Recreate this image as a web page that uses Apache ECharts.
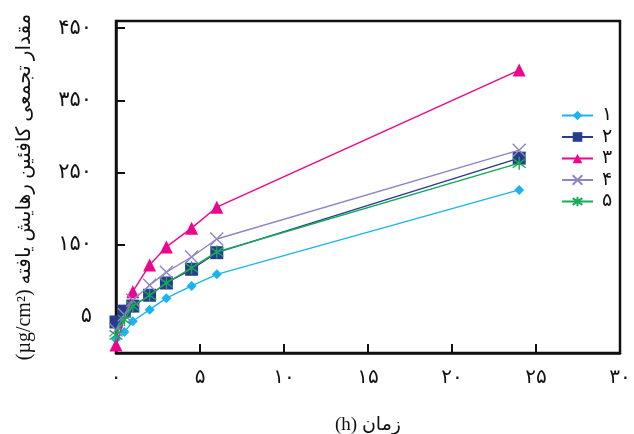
<!DOCTYPE html>
<html>
<head>
<meta charset="utf-8">
<script src="https://cdn.jsdelivr.net/npm/echarts@6.0.0/dist/echarts.min.js"></script>
<style>
  html, body { margin: 0; padding: 0; background: #fff; }
  #chart { width: 634px; height: 434px; }
</style>
</head>
<body>
<div id="chart"></div>
<script>
// Sampling times (hours)
const times = [0, 0.5, 1, 2, 3, 4.5, 6, 24];

// Cumulative caffeine released (µg/cm²) for each formulation
const seriesNames = ['۱', '۲', '۳', '۴', '۵'];
const s1 = [19, 29, 44, 60, 76, 93, 109, 226];
const s2 = [43, 58, 65, 80, 97, 116, 139, 270];
const s3 = [11, null, 85, 122, 147, 173, 202, 392];
const s4 = [32, 53, 73, 94, 112, 133, 158, 281];
const s5 = [25, 46, 65, 80, 97, 118, 140, 263];

// Axis ticks and their Persian labels
const xTicks = [0, 5, 10, 15, 20, 25, 30];
const xTickLabels = ['۰', '۵', '۱۰', '۱۵', '۲۰', '۲۵', '۳۰'];
const yTicks = [50, 150, 250, 350, 450];
const yTickLabels = ['۵', '۱۵۰', '۲۵۰', '۳۵۰', '۴۵۰'];

// Right-to-left embedding keeps the Persian titles in their natural order
const xName = '\u202Bزمان (h)\u202C';
const yName = '\u202Bمقدار تجمعی کافئین رهایش یافته (µg/cm²)\u202C';

const FONT = "'Liberation Serif', 'DejaVu Sans', serif";

const colors = ['#19b5ec', '#283c8e', '#ec068d', '#9084c2', '#17a85a'];
const symbols = [
  'diamond',
  'rect',
  'triangle',
  'path://M0,0L10,10M10,0L0,10',
  'path://M5,0L5,10M1.5,1.5L8.5,8.5M8.5,1.5L1.5,8.5'
];
const symbolSizes = [10, 13, 13, 13, 13];
const allValues = [s1, s2, s3, s4, s5];

function pairs(vals) {
  return times.map((t, i) => [t, vals[i]]);
}

const series = allValues.map((vals, i) => ({
  name: seriesNames[i],
  type: 'line',
  data: pairs(vals),
  connectNulls: true,
  symbol: symbols[i],
  symbolSize: symbolSizes[i],
  showAllSymbol: true,
  lineStyle: { color: colors[i], width: 1.4 },
  itemStyle: {
    color: colors[i],
    borderColor: colors[i],
    borderWidth: i >= 3 ? 1.4 : 0
  },
  emphasis: { disabled: true },
  z: 2 + i
}));

const chart = echarts.init(document.getElementById('chart'), null, { renderer: 'canvas' });

chart.setOption({
  animation: false,
  backgroundColor: '#ffffff',
  grid: {
    left: 116, top: 21, right: 14, bottom: 81,
    outerBoundsMode: 'none',
    show: true, borderColor: '#111', borderWidth: 2.5, backgroundColor: 'transparent'
  },
  legend: {
    orient: 'vertical',
    left: 556,
    top: 101,
    itemWidth: 31,
    itemHeight: 12,
    itemGap: 2.5,
    data: seriesNames,
    textStyle: { fontFamily: FONT, fontSize: 19, lineHeight: 16, color: '#111', padding: [0, 0, 0, 4] }
  },
  xAxis: {
    type: 'value',
    min: 0, max: 30, interval: 5,
    name: xName,
    nameLocation: 'middle',
    nameGap: 63,
    nameTextStyle: { fontFamily: FONT, fontSize: 19, color: '#111' },
    axisLine: { show: true, onZero: false, lineStyle: { color: '#111', width: 2.5 } },
    axisTick: { show: true, inside: true, length: 9, lineStyle: { color: '#111', width: 2 } },
    axisLabel: {
      margin: 15,
      fontFamily: FONT, fontSize: 20, color: '#111',
      formatter: v => xTickLabels[xTicks.indexOf(v)] ?? ''
    },
    splitLine: { show: false }
  },
  yAxis: {
    type: 'value',
    min: 0, max: 460,
    name: yName,
    nameLocation: 'middle',
    nameGap: 81,
    nameRotate: 90,
    nameTextStyle: { fontFamily: FONT, fontSize: 20, color: '#111' },
    axisLine: { show: true, onZero: false, lineStyle: { color: '#111', width: 2.5 } },
    axisTick: { show: true, inside: true, length: 9, customValues: yTicks, lineStyle: { color: '#111', width: 2 } },
    axisLabel: {
      margin: 24,
      customValues: yTicks,
      fontFamily: FONT, fontSize: 21, color: '#111',
      formatter: v => yTickLabels[yTicks.indexOf(v)] ?? ''
    },
    splitLine: { show: false }
  },
  series: series
});
</script>
</body>
</html>
